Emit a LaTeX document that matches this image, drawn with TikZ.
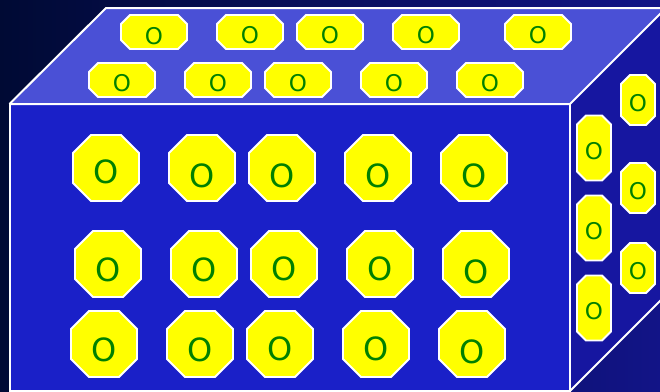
\documentclass[tikz,border=0pt]{standalone}
\usepackage{fontspec}
\newfontfamily\octfont{DejaVu Sans}
\definecolor{bgL}{RGB}{0,10,52}
\definecolor{bgR}{RGB}{18,20,135}
\definecolor{frontc}{RGB}{26,32,200}
\definecolor{topc}{RGB}{74,80,214}
\definecolor{sidec}{RGB}{22,22,160}
\definecolor{octfill}{RGB}{255,255,0}
\definecolor{octtext}{RGB}{0,128,0}
\tikzset{
  edgeline/.style={draw=white, line width=2pt, line join=miter},
  octline/.style={fill=octfill, draw=white, line width=1.8pt},
  otext/.style={text=octtext, inner sep=0pt},
}
\newcommand\oct[8]{% name, cx, cy, w, h, cut, font size, dy
  \pgfmathsetmacro\oXa{#2-#4/2}\pgfmathsetmacro\oXb{#2-#4/2+#6}%
  \pgfmathsetmacro\oXc{#2+#4/2-#6}\pgfmathsetmacro\oXd{#2+#4/2}%
  \pgfmathsetmacro\oYa{#3-#5/2}\pgfmathsetmacro\oYb{#3-#5/2+#6}%
  \pgfmathsetmacro\oYc{#3+#5/2-#6}\pgfmathsetmacro\oYd{#3+#5/2}%
  \draw[octline] (\oXb,\oYa) -- (\oXc,\oYa) -- (\oXd,\oYb) -- (\oXd,\oYc) -- (\oXc,\oYd) -- (\oXb,\oYd) -- (\oXa,\oYc) -- (\oXa,\oYb) -- cycle;
  \node[otext, font=\octfont\fontsize{#7}{#7}\selectfont] (#1) at (#2,#3+#8) {O};%
}
\begin{document}
\begin{tikzpicture}[x=1pt,y=-1pt]
\useasboundingbox (0,0) rectangle (660,391);
\begin{scope}
\clip (0,0) rectangle (660,391);
\shade[left color=bgL, right color=bgR] (0,0) rectangle (660,391);
% faces
\fill[topc] (9.5,104) -- (106,8) -- (666,8) -- (570,104) -- cycle;
\fill[sidec] (570,104) -- (666,8) -- (666,295) -- (570,391) -- cycle;
\fill[frontc] (9.5,104) rectangle (570,390.5);
\draw[edgeline] (9.5,104) -- (106,8) -- (666,8);
\draw[edgeline] (9.5,104) -- (570,104) -- (666,8);
\draw[edgeline] (570,391) -- (666,295);
\draw[edgeline] (9.5,104) rectangle (570,390.5);
% top face, back row
\oct{t1}{154}{32}{66}{34}{9}{23}{4}
\oct{t2}{250}{32}{66}{34}{9}{23}{3.5}
\oct{t3}{330}{32}{66}{34}{9}{23}{3.5}
\oct{t4}{426}{32}{66}{34}{9}{23}{3.5}
\oct{t5}{538}{32}{66}{34}{9}{23}{3.5}
% top face, front row
\oct{t6}{122}{80}{66}{34}{9}{23}{3.5}
\oct{t7}{218}{80}{66}{34}{9}{23}{3}
\oct{t8}{298}{80}{66}{34}{9}{23}{3}
\oct{t9}{394}{80}{66}{34}{9}{23}{3}
\oct{t10}{490}{80}{66}{34}{9}{23}{3}
% front face row 1
\oct{f1}{106}{168}{66}{66}{18}{32}{4}
\oct{f2}{202}{168}{66}{66}{18}{32}{8}
\oct{f3}{282}{168}{66}{66}{18}{32}{8}
\oct{f4}{378}{168}{66}{66}{18}{32}{8}
\oct{f5}{474}{168}{66}{66}{18}{32}{8}
% front face row 2
\oct{f6}{108}{264}{66}{66}{18}{32}{5.5}
\oct{f7}{204}{264}{66}{66}{18}{32}{5.5}
\oct{f8}{284}{264}{66}{66}{18}{32}{5}
\oct{f9}{380}{264}{66}{66}{18}{32}{5}
\oct{f10}{476}{264}{66}{66}{18}{32}{8}
% front face row 3
\oct{f11}{104}{344}{66}{66}{18}{32}{5.5}
\oct{f12}{200}{344}{66}{66}{18}{32}{5.5}
\oct{f13}{280}{344}{66}{66}{18}{32}{5}
\oct{f14}{376}{344}{66}{66}{18}{32}{5}
\oct{f15}{472}{344}{66}{66}{18}{32}{7.5}
% right face, left column
\oct{s1}{594}{148}{34}{65}{9}{23}{3.5}
\oct{s2}{594}{228}{34}{65}{9}{23}{3.5}
\oct{s3}{594}{308}{34}{65}{9}{23}{3.5}
% right face, right column
\oct{s4}{638}{100}{34}{50}{9}{23}{3.5}
\oct{s5}{638}{188}{34}{50}{9}{23}{3.5}
\oct{s6}{638}{268}{34}{50}{9}{23}{3.5}
\end{scope}
\end{tikzpicture}
\end{document}
